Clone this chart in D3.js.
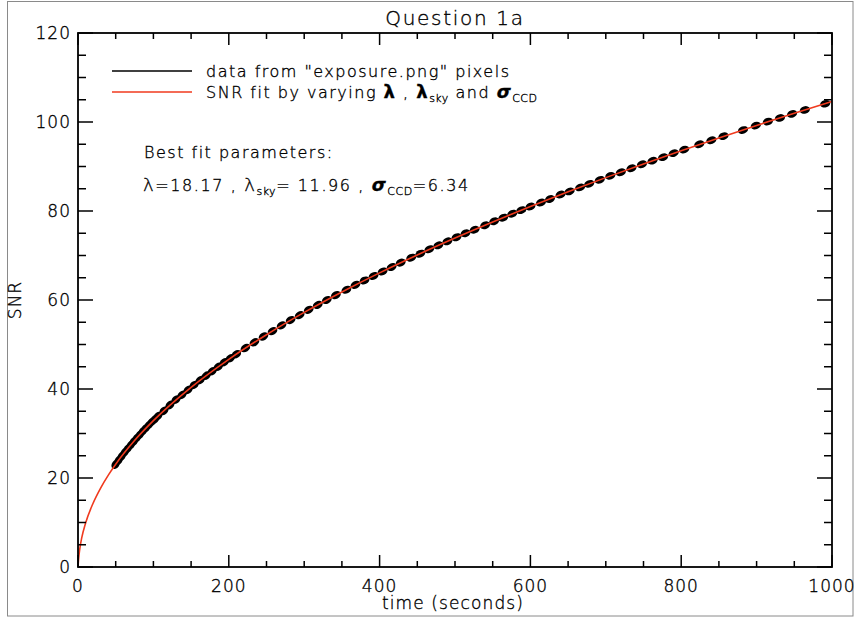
<!DOCTYPE html>
<html><head><meta charset="utf-8">
<script src="https://cdn.jsdelivr.net/npm/d3@7"></script>
<style>
body{margin:0;background:#fff;}
svg text{font-family:"DejaVu Sans","Liberation Sans",sans-serif;fill:#000;font-weight:300;stroke:#000;stroke-width:0.35px;}
</style></head>
<body><svg id="c" width="855" height="625"></svg>
<script>
// ---- data ----
const dataTime = [50,54,58,62,66,70,74,78,82,86,90,94,98,102,106,114,122,130,138,146,154,162,170,178,186,194,202,210,
 222,234,246,258,270,282,294,306,318,330,342,356,368,380,392,404,416,428,442,454,466,478,490,502,514,526,540,552,564,576,588,600,
 614,626,640,652,666,678,692,706,720,734,748,762,776,790,804,824,840,856,882,899,915,931,947,964,991];
const dataSNR = [23.1,24.0,24.9,25.8,26.6,27.4,28.2,29.0,29.7,30.5,31.2,31.9,32.6,33.2,33.9,35.1,36.4,37.6,38.7,39.8,40.9,42.0,43.0,44.0,45.0,46.0,46.9,47.8,
 49.2,50.5,51.8,53.0,54.3,55.5,56.6,57.8,58.9,60.0,61.1,62.3,63.4,64.4,65.4,66.4,67.4,68.4,69.5,70.4,71.4,72.3,73.2,74.1,75.0,75.8,76.8,77.7,78.5,79.4,80.2,81.0,
 81.9,82.7,83.7,84.4,85.3,86.1,87.0,87.9,88.7,89.6,90.5,91.3,92.1,93.0,93.8,95.0,95.9,96.8,98.2,99.2,100.1,100.9,101.8,102.7,104.1];
const fitTime = [0,1,2,5,10,20,30,40,50,75,100,150,200,250,300,350,400,450,500,550,600,650,700,750,800,850,900,950,1000];
const fitSNR  = [0,2.17,3.63,6.58,9.83,14.33,17.74,20.60,23.10,28.41,32.88,40.36,46.66,52.20,57.21,61.81,66.10,70.12,73.92,77.54,80.99,84.31,87.50,90.57,93.55,96.43,99.23,101.96,104.61];
const xMajorTicks = [0,200,400,600,800,1000];
const yMajorTicks = [0,20,40,60,80,100,120];
const titleText = "Question 1a";
const xLabel = "time (seconds)";
const yLabel = "SNR";

// ---- layout ----
const svg = d3.select("#c");
const L=78, R=832, T=33, B=567;
const x = d3.scaleLinear().domain([0,1000]).range([L,R]);
const y = d3.scaleLinear().domain([0,120]).range([B,T]);
const red = "#f03a1e";

svg.append("rect").attr("x",7.5).attr("y",1.5).attr("width",845.5).attr("height",614.5)
  .attr("fill","none").attr("stroke","#8a8a8a").attr("stroke-width",1);

const line = d3.line().x((d,i)=>x(fitTime[i])).y((d,i)=>y(fitSNR[i])).curve(d3.curveMonotoneX);

// data blobs
const pts = dataTime.map((t,i)=>({px:x(t),py:y(dataSNR[i])}));
const gD = svg.append("g");
pts.forEach((p,i)=>{
  const a = pts[Math.max(0,i-1)], b = pts[Math.min(pts.length-1,i+1)];
  const ang = Math.atan2(b.py-a.py,b.px-a.px)*180/Math.PI;
  gD.append("ellipse").attr("cx",p.px).attr("cy",p.py).attr("rx",5.2).attr("ry",3.7)
    .attr("transform",`rotate(${ang},${p.px},${p.py})`).attr("fill","#000");
});
svg.append("path").attr("d",line(fitSNR)).attr("fill","none").attr("stroke",red).attr("stroke-width",1.6);

// axes box
svg.append("rect").attr("x",L).attr("y",T).attr("width",R-L).attr("height",B-T)
  .attr("fill","none").attr("stroke","#000").attr("stroke-width",1.8);

const xAll = d3.range(0,1001,50), yAll = d3.range(0,121,5);
const gT = svg.append("g").attr("stroke","#000").attr("stroke-width",1.5);
xAll.forEach(v=>{
  const maj = v%200===0, len = maj?12:6;
  gT.append("line").attr("x1",x(v)).attr("x2",x(v)).attr("y1",B).attr("y2",B-len);
  gT.append("line").attr("x1",x(v)).attr("x2",x(v)).attr("y1",T).attr("y2",T+len);
});
yAll.forEach(v=>{
  const maj = v%20===0, len = maj?15:8;
  gT.append("line").attr("y1",y(v)).attr("y2",y(v)).attr("x1",L).attr("x2",L+len);
  gT.append("line").attr("y1",y(v)).attr("y2",y(v)).attr("x1",R).attr("x2",R-len);
});
xMajorTicks.forEach(v=>{
  svg.append("text").attr("x",x(v)).attr("y",592).attr("text-anchor","middle")
    .attr("font-size",17).attr("letter-spacing",1).text(v);
});
yMajorTicks.forEach(v=>{
  svg.append("text").attr("x",71).attr("y",y(v)+6).attr("text-anchor","end")
    .attr("font-size",17).attr("letter-spacing",1).text(v);
});
svg.append("text").attr("x",455).attr("y",25).attr("text-anchor","middle").attr("font-size",20).attr("letter-spacing",1.7).text(titleText);
svg.append("text").attr("x",453).attr("y",609).attr("text-anchor","middle").attr("font-size",17).attr("letter-spacing",1.1).text(xLabel);
svg.append("text").attr("transform","translate(21,300) rotate(-90)").attr("text-anchor","middle").attr("font-size",17).attr("letter-spacing",1).text(yLabel);

// legend
svg.append("line").attr("x1",112).attr("x2",192).attr("y1",71).attr("y2",71).attr("stroke","#000").attr("stroke-width",1.5);
svg.append("line").attr("x1",112).attr("x2",192).attr("y1",92).attr("y2",92).attr("stroke",red).attr("stroke-width",1.6);
svg.append("text").attr("x",206).attr("y",77).attr("font-size",16).attr("letter-spacing",1.5).text('data from "exposure.png" pixels');
const t2 = svg.append("text").attr("x",206).attr("y",98).attr("font-size",16).attr("letter-spacing",1.5);
t2.append("tspan").text("SNR fit by varying ");
t2.append("tspan").attr("font-weight","bold").attr("font-size",18).text("λ");
t2.append("tspan").text(" , ");
t2.append("tspan").attr("font-weight","bold").attr("font-size",18).text("λ");
t2.append("tspan").attr("font-size",11).attr("dy",4).attr("letter-spacing",0.5).text("sky");
t2.append("tspan").attr("dy",-4).text(" and ");
t2.append("tspan").attr("font-weight","bold").attr("font-style","italic").attr("font-size",18).text("σ");
t2.append("tspan").attr("font-size",11).attr("dy",4).attr("letter-spacing",0.5).text("CCD");

svg.append("text").attr("x",144).attr("y",158).attr("font-size",16).attr("letter-spacing",1.5).text("Best fit parameters:");
const t3 = svg.append("text").attr("x",143).attr("y",191).attr("font-size",16).attr("letter-spacing",1.6);
t3.append("tspan").attr("font-size",18).text("λ");
t3.append("tspan").text("=18.17 , ");
t3.append("tspan").attr("font-size",18).text("λ");
t3.append("tspan").attr("font-size",11).attr("dy",4).attr("letter-spacing",0.5).text("sky");
t3.append("tspan").attr("dy",-4).text("= 11.96 , ");
t3.append("tspan").attr("font-style","italic").attr("font-weight","bold").attr("font-size",18).text("σ");
t3.append("tspan").attr("font-size",11).attr("dy",4).attr("letter-spacing",0.5).text("CCD");
t3.append("tspan").attr("dy",-4).text("=6.34");
</script></body></html>
